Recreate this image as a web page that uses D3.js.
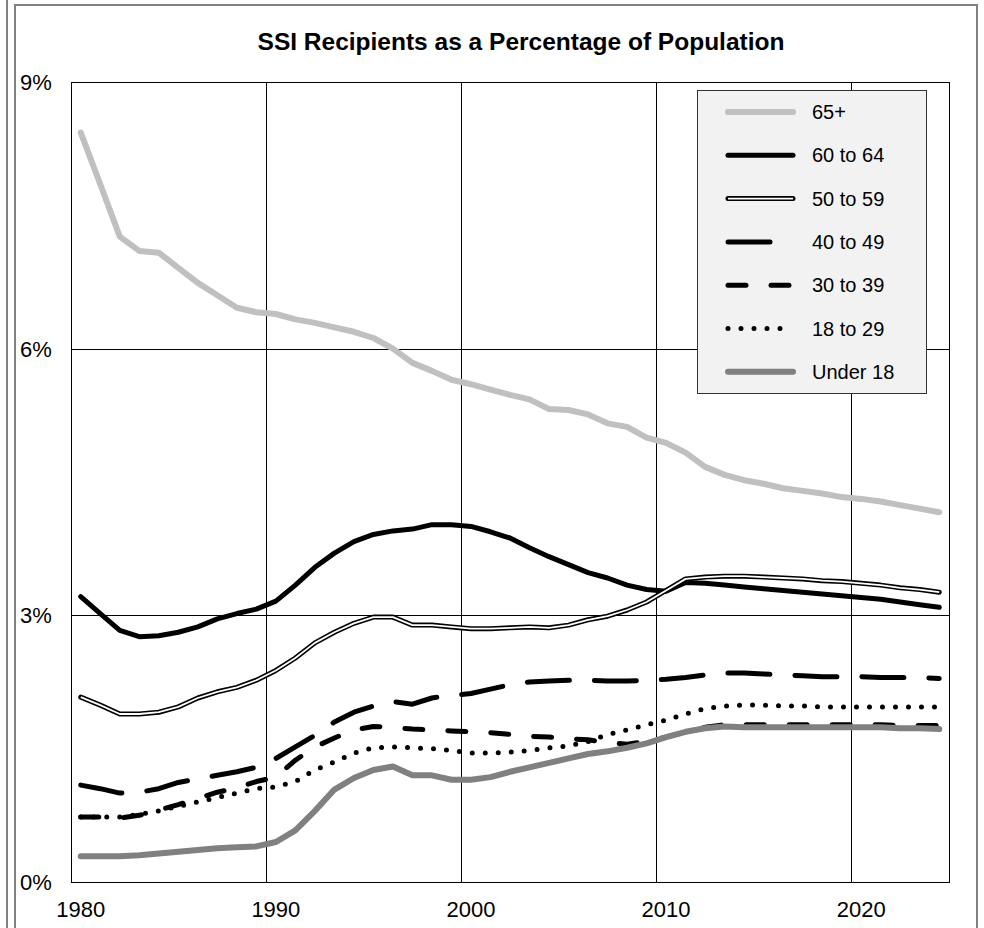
<!DOCTYPE html>
<html>
<head>
<meta charset="utf-8">
<script src="https://cdn.jsdelivr.net/npm/d3@7"></script>
<style>
  body { margin: 0; background: #fff; }
  svg { display: block; font-family: "Liberation Sans", Arial, sans-serif; }
</style>
</head>
<body>
<div id="chart"></div>
<script>
// years (data points are placed at mid-year)
const years = [1980, 1981, 1982, 1983, 1984, 1985, 1986, 1987, 1988, 1989,
  1990, 1991, 1992, 1993, 1994, 1995, 1996, 1997, 1998, 1999,
  2000, 2001, 2002, 2003, 2004, 2005, 2006, 2007, 2008, 2009,
  2010, 2011, 2012, 2013, 2014, 2015, 2016, 2017, 2018, 2019,
  2020, 2021, 2022, 2023, 2024];

const age65plus = [8.43, 7.85, 7.26, 7.10, 7.08, 6.91, 6.74, 6.60, 6.46, 6.41,
  6.39, 6.33, 6.29, 6.24, 6.19, 6.12, 6.00, 5.84, 5.75, 5.65,
  5.60, 5.54, 5.48, 5.43, 5.32, 5.31, 5.26, 5.16, 5.12, 5.00,
  4.94, 4.83, 4.67, 4.58, 4.52, 4.48, 4.43, 4.40, 4.37, 4.33,
  4.31, 4.28, 4.24, 4.20, 4.16];

const age60to64 = [3.21, 3.02, 2.83, 2.76, 2.77, 2.81, 2.87, 2.96, 3.02, 3.07,
  3.16, 3.34, 3.54, 3.70, 3.83, 3.91, 3.95, 3.97, 4.02, 4.02,
  4.00, 3.94, 3.87, 3.76, 3.66, 3.57, 3.48, 3.42, 3.34, 3.29,
  3.27, 3.37, 3.36, 3.34, 3.32, 3.30, 3.28, 3.26, 3.24, 3.22,
  3.20, 3.18, 3.15, 3.12, 3.09];

const age50to59 = [2.08, 1.99, 1.89, 1.89, 1.91, 1.97, 2.07, 2.14, 2.19, 2.27,
  2.38, 2.52, 2.69, 2.81, 2.91, 2.98, 2.98, 2.89, 2.89, 2.87,
  2.85, 2.85, 2.86, 2.87, 2.86, 2.89, 2.95, 2.99, 3.06, 3.15,
  3.28, 3.41, 3.43, 3.44, 3.44, 3.43, 3.42, 3.41, 3.39, 3.38,
  3.36, 3.34, 3.31, 3.29, 3.26];

const age40to49 = [1.09, 1.05, 1.00, 1.01, 1.05, 1.12, 1.16, 1.20, 1.24, 1.29,
  1.39, 1.52, 1.65, 1.80, 1.91, 1.98, 2.03, 2.00, 2.07, 2.10,
  2.12, 2.17, 2.22, 2.25, 2.26, 2.27, 2.27, 2.26, 2.26, 2.27,
  2.28, 2.30, 2.33, 2.35, 2.35, 2.34, 2.33, 2.32, 2.31, 2.31,
  2.31, 2.30, 2.30, 2.30, 2.29];

const age30to39 = [0.73, 0.73, 0.72, 0.75, 0.81, 0.87, 0.94, 1.01, 1.06, 1.13,
  1.18, 1.37, 1.52, 1.62, 1.71, 1.75, 1.74, 1.72, 1.71, 1.70,
  1.69, 1.68, 1.66, 1.64, 1.63, 1.61, 1.60, 1.57, 1.55, 1.58,
  1.63, 1.69, 1.74, 1.77, 1.77, 1.77, 1.77, 1.77, 1.77, 1.77,
  1.77, 1.77, 1.76, 1.76, 1.76];

const age18to29 = [0.73, 0.73, 0.73, 0.76, 0.80, 0.85, 0.90, 0.95, 1.00, 1.05,
  1.07, 1.13, 1.26, 1.35, 1.45, 1.51, 1.52, 1.51, 1.50, 1.48,
  1.45, 1.45, 1.46, 1.48, 1.51, 1.53, 1.58, 1.66, 1.71, 1.77,
  1.82, 1.89, 1.95, 1.98, 1.99, 1.99, 1.98, 1.98, 1.97, 1.97,
  1.97, 1.97, 1.97, 1.97, 1.97];

const under18 = [0.29, 0.29, 0.29, 0.30, 0.32, 0.34, 0.36, 0.38, 0.39, 0.40,
  0.45, 0.58, 0.80, 1.04, 1.17, 1.26, 1.30, 1.20, 1.20, 1.15,
  1.15, 1.18, 1.24, 1.29, 1.34, 1.39, 1.44, 1.47, 1.51, 1.56,
  1.63, 1.69, 1.73, 1.75, 1.74, 1.74, 1.74, 1.74, 1.74, 1.74,
  1.74, 1.74, 1.73, 1.73, 1.72];

const yTicks = [0, 3, 6, 9];
const xTicks = [1980, 1990, 2000, 2010, 2020];

const series = [
  { name: "65+", values: age65plus, color: "#c0c0c0", width: 6 },
  { name: "60 to 64", values: age60to64, color: "#000", width: 5 },
  { name: "50 to 59", values: age50to59, color: "#000", width: 5, inner: "#fff" },
  { name: "40 to 49", values: age40to49, color: "#000", width: 5, dash: "42 25" },
  { name: "30 to 39", values: age30to39, color: "#000", width: 5, dash: "18 25" },
  { name: "18 to 29", values: age18to29, color: "#000", width: 5, dash: "0 13" },
  { name: "Under 18", values: under18, color: "#808080", width: 6 }
];

const W = 984, H = 928;
const svg = d3.select("#chart").append("svg")
  .attr("width", W)
  .attr("height", H);

// outer frames
svg.append("line").attr("x1", 7).attr("x2", 7).attr("y1", 0).attr("y2", H)
  .attr("stroke", "#808080").attr("stroke-width", 2);
svg.append("path").attr("d", `M15,${H + 5}V5H977V${H + 5}`)
  .attr("fill", "none").attr("stroke", "#808080").attr("stroke-width", 2);

const x = d3.scaleLinear().domain([1980, 2025]).range([71, 949]);
const y = d3.scaleLinear().domain([0, 9]).range([882, 82]);

// gridlines
const grid = svg.append("g").attr("stroke", "#000").attr("stroke-width", 1);
grid.selectAll(".vg").data(xTicks.slice(1))
  .enter().append("line")
  .attr("x1", d => Math.round(x(d)) + 0.5).attr("x2", d => Math.round(x(d)) + 0.5)
  .attr("y1", y(9)).attr("y2", y(0));
grid.selectAll(".hg").data(yTicks.slice(1, -1))
  .enter().append("line")
  .attr("x1", x(1980)).attr("x2", x(2025))
  .attr("y1", d => Math.round(y(d)) + 0.5).attr("y2", d => Math.round(y(d)) + 0.5);
svg.append("rect")
  .attr("x", x(1980) + 0.5).attr("y", y(9) + 0.5)
  .attr("width", x(2025) - x(1980)).attr("height", y(0) - y(9))
  .attr("fill", "none").attr("stroke", "#000");

// axis labels
svg.selectAll(".ylab").data(yTicks)
  .enter().append("text")
  .attr("x", 20).attr("y", d => y(d) + 8)
  .attr("font-size", 22)
  .text(d => d + "%");

svg.selectAll(".xlab").data(xTicks)
  .enter().append("text")
  .attr("x", d => x(d + 0.5)).attr("y", 917)
  .attr("text-anchor", "middle")
  .attr("font-size", 22)
  .text(d => d);

svg.append("text")
  .attr("x", 521).attr("y", 50)
  .attr("text-anchor", "middle")
  .attr("font-size", 24.5).attr("font-weight", "bold")
  .text("SSI Recipients as a Percentage of Population");

// lines
const line = d3.line()
  .x((d, i) => x(years[i] + 0.5))
  .y(d => y(d));

function styleLine(sel, s) {
  sel.attr("fill", "none")
    .attr("stroke", s.color)
    .attr("stroke-width", s.width)
    .attr("stroke-linejoin", "round")
    .attr("stroke-linecap", "round")
    .attr("stroke-dasharray", s.dash || null);
}

series.forEach(s => {
  svg.append("path").attr("d", line(s.values)).call(styleLine, s);
  if (s.inner) {
    svg.append("path").attr("d", line(s.values))
      .attr("fill", "none").attr("stroke", s.inner)
      .attr("stroke-width", 1.8).attr("stroke-linejoin", "round");
  }
});

// legend
const legend = svg.append("g");
legend.append("rect")
  .attr("x", 697.5).attr("y", 90.5).attr("width", 229).attr("height", 303)
  .attr("fill", "#f2f2f2").attr("stroke", "#333");

const rows = legend.selectAll(".item").data(series)
  .enter().append("g")
  .attr("transform", (d, i) => `translate(0,${112 + i * 43.3})`);

rows.each(function(s) {
  const g = d3.select(this);
  g.append("line").attr("x1", 728).attr("x2", 793).attr("y1", 0).attr("y2", 0)
    .call(styleLine, s);
  if (s.inner) {
    g.append("line").attr("x1", 728).attr("x2", 793).attr("y1", 0).attr("y2", 0)
      .attr("stroke", s.inner).attr("stroke-width", 1.8);
  }
  g.append("text").attr("x", 812).attr("y", 7)
    .attr("font-size", 20).text(s.name);
});
</script>
</body>
</html>
